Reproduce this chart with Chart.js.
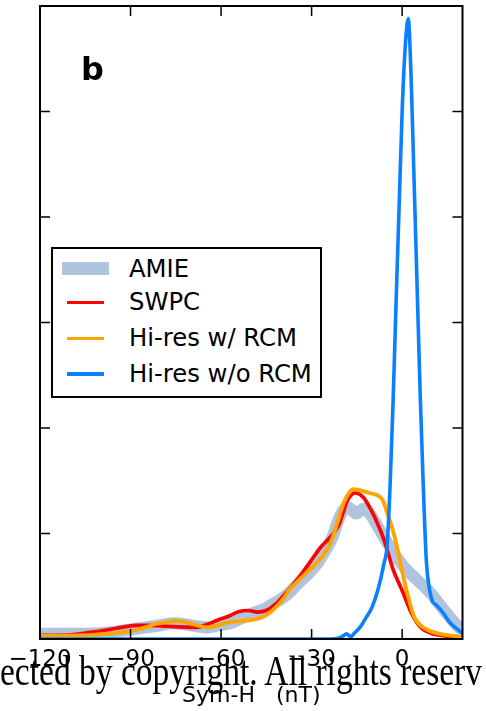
<!DOCTYPE html>
<html>
<head>
<meta charset="utf-8">
<script src="https://cdn.jsdelivr.net/npm/chart.js@4.4.1/dist/chart.umd.min.js"></script>
<style>
html,body{margin:0;padding:0;background:#fff;width:486px;height:711px;overflow:hidden}
#wrap{position:relative;width:486px;height:711px}
#c{position:absolute;left:0;top:0}
#legend{position:absolute;left:51px;top:247px;width:267px;height:146.5px;border:2px solid #000;background:#fff}
.lt{position:absolute;left:129px;font-family:"DejaVu Sans";font-size:24.3px;line-height:1;transform:translateY(-50%);white-space:nowrap;color:#000}
.lh{position:absolute}
#panel{position:absolute;left:81px;top:53px;font-family:"DejaVu Sans";font-weight:bold;font-size:32px;line-height:1;color:#000}
#wm{position:absolute;left:0;top:649px;font-family:"Liberation Serif";font-size:43px;line-height:1;white-space:nowrap;color:#000;transform-origin:0 0;z-index:5}
</style>
</head>
<body>
<div id="wrap">
<canvas id="c" width="486" height="711"></canvas>
<div id="panel">b</div>
<div id="legend"></div>
<div id="wm">ected by copyright. All rights reserv</div>
</div>
<script>
// ---- data ----
const seriesNames = ["AMIE", "SWPC", "Hi-res w/ RCM", "Hi-res w/o RCM"];
const seriesColors = ["#b0c4de", "#ff0000", "#ffa500", "#0a80ff"];

const amieX = [-120,-110,-100,-95,-90,-85,-80,-76,-72,-68,-64.5,-61,-57,-53,-49,-46,-43,-40,-37,-34,-31,-28,-25,-23,-21.5,-19.5,-18,-16.5,-15.3,-14,-12.6,-10,-8,-4,0.7,5,9.6,14,18.5,20];
const amieY = [0.05,0.05,0.055,0.07,0.09,0.11,0.13,0.15,0.14,0.12,0.11,0.13,0.15,0.2,0.25,0.28,0.33,0.38,0.45,0.54,0.62,0.72,0.86,0.97,1.1,1.22,1.25,1.22,1.19,1.21,1.24,1.16,1.06,0.87,0.68,0.56,0.43,0.27,0.12,0.08];

const swpcX = [-120,-110,-104,-98,-92,-88,-84,-80,-76,-72,-68,-64.5,-61,-58,-54,-51,-48,-45,-42,-39,-36,-33,-30,-27,-24,-21,-20,-18,-15.5,-14,-12.5,-11,-9,-6,-3,0,3,5,7,10,14,20];
const swpcY = [0.035,0.04,0.06,0.085,0.115,0.13,0.13,0.125,0.117,0.112,0.11,0.14,0.18,0.21,0.26,0.27,0.255,0.27,0.33,0.42,0.52,0.63,0.75,0.87,0.96,1.08,1.16,1.32,1.385,1.37,1.33,1.26,1.15,0.94,0.66,0.46,0.25,0.15,0.09,0.05,0.03,0.02];

const rcmX = [-120,-105,-100,-95,-89,-85,-82,-78,-75.5,-72,-68,-64.5,-61,-58,-54,-50,-46,-43,-40,-37,-34.5,-32,-29,-26,-23.5,-21.5,-19.5,-17.5,-16,-14,-11,-8,-6.5,-5,-2.5,-0.3,2,4,7.5,13,20];
const rcmY = [0.03,0.035,0.045,0.055,0.08,0.11,0.14,0.16,0.17,0.16,0.13,0.11,0.13,0.155,0.17,0.18,0.21,0.27,0.36,0.48,0.55,0.62,0.7,0.8,0.93,1.1,1.28,1.39,1.42,1.41,1.385,1.36,1.32,1.2,0.97,0.68,0.4,0.21,0.1,0.047,0.02];

const noRcmX = [-120,-40,-25,-21,-19,-18.5,-17,-16,-14,-12,-10,-8,-6,-5,-4,-3,-2,-1,0,1,2,3,4,5,6,7,8,9,10,11,13,16,18,20];
const noRcmY = [0,0,0,0.01,0.04,0.05,0.02,0.05,0.11,0.2,0.3,0.47,0.72,0.88,1.45,2.25,3.2,4.1,5.0,5.6,5.88,5.3,4.3,3.3,2.3,1.45,0.75,0.48,0.36,0.33,0.27,0.15,0.1,0.05];

const xTickValues = [-120,-90,-60,-30,0];
const yTickValues = [1,2,3,4,5];
const xTitle = "Sym-H   (nT)";

// ---- build ----
const zip = (xs, ys) => xs.map((x, i) => ({x, y: ys[i]}));
const seriesData = [zip(amieX, amieY), zip(swpcX, swpcY), zip(rcmX, rcmY), zip(noRcmX, noRcmY)];
const widths = [12, 3.7, 3.9, 3.6];
const orders = [4, 3, 2, 1];

const datasets = seriesNames.map((n, i) => ({
  label: n,
  data: seriesData[i],
  borderColor: seriesColors[i],
  backgroundColor: seriesColors[i],
  borderWidth: widths[i],
  pointRadius: 0,
  fill: false,
  cubicInterpolationMode: 'monotone',
  borderJoinStyle: 'round',
  clip: 0,
  order: orders[i]
}));

const framePlugin = {
  id: 'frame',
  afterDatasetsDraw(chart) {
    const {ctx, chartArea: a, scales: {x, y}} = chart;
    ctx.save();
    ctx.strokeStyle = '#000';
    ctx.lineWidth = 1.5;
    ctx.beginPath();
    xTickValues.forEach(v => {
      const px = x.getPixelForValue(v);
      ctx.moveTo(px, a.bottom); ctx.lineTo(px, a.bottom - 10);
      ctx.moveTo(px, a.top); ctx.lineTo(px, a.top + 10);
    });
    yTickValues.forEach(v => {
      const py = y.getPixelForValue(v);
      ctx.moveTo(a.left, py); ctx.lineTo(a.left + 10, py);
      ctx.moveTo(a.right, py); ctx.lineTo(a.right - 10, py);
    });
    ctx.stroke();
    ctx.lineWidth = 2;
    ctx.strokeRect(a.left, a.top, a.right - a.left, a.bottom - a.top);
    ctx.restore();
  }
};

new Chart(document.getElementById('c'), {
  type: 'line',
  data: {datasets},
  options: {
    responsive: false,
    animation: false,
    devicePixelRatio: 1,
    layout: {padding: {left: 40, right: 23.5, top: 6, bottom: 0}},
    plugins: {legend: {display: false}, tooltip: {enabled: false}},
    scales: {
      x: {
        type: 'linear', min: -120, max: 20,
        grid: {display: false, drawTicks: false},
        border: {display: false},
        afterBuildTicks: s => { s.ticks = xTickValues.map(v => ({value: v})); },
        afterFit: s => { s.height = 72; },
        ticks: {
          color: '#000', padding: 7, maxRotation: 0, autoSkip: false,
          font: {family: 'DejaVu Sans', size: 23},
          callback: v => (v < 0 ? '\u2212' + Math.abs(v) : String(v))
        },
        title: {display: true, text: xTitle, color: '#000',
          font: {family: 'DejaVu Sans', size: 22}, padding: {top: 0, bottom: 2}}
      },
      y: {display: false, min: 0, max: 6}
    }
  },
  plugins: [framePlugin]
});

// ---- legend (HTML) ----
const wrap = document.getElementById('wrap');
const textCenters = [268.6, 302.3, 338, 374];
const handleCenters = [268.3, 302.7, 338.3, 374];
seriesNames.forEach((n, i) => {
  const h = document.createElement('div');
  h.className = 'lh';
  if (i === 0) {
    Object.assign(h.style, {left: '62px', width: '47px', top: (handleCenters[i] - 6.5) + 'px', height: '13px', background: seriesColors[i]});
  } else {
    Object.assign(h.style, {left: '67px', width: '37px', top: (handleCenters[i] - 1.8) + 'px', height: '3.6px', background: seriesColors[i]});
  }
  wrap.appendChild(h);
  const t = document.createElement('div');
  t.className = 'lt';
  t.style.top = textCenters[i] + 'px';
  t.textContent = n;
  wrap.appendChild(t);
});

// fit watermark width
const wm = document.getElementById('wm');
const w = wm.getBoundingClientRect().width;
wm.style.transform = 'scaleX(' + (482 / w) + ')';
</script>
</body>
</html>
